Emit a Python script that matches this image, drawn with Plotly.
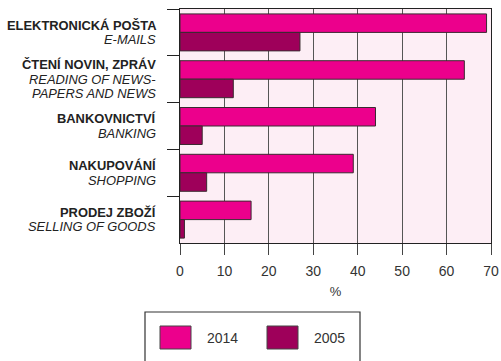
import plotly.graph_objects as go

# Internet activities, share of users (%)
categories_cz = ["ELEKTRONICKÁ POŠTA", "ČTENÍ NOVIN, ZPRÁV", "BANKOVNICTVÍ", "NAKUPOVÁNÍ", "PRODEJ ZBOŽÍ"]
categories_en = [["E-MAILS"], ["READING OF NEWS-", "PAPERS AND NEWS"], ["BANKING"], ["SHOPPING"], ["SELLING OF GOODS"]]
series_names = ["2014", "2005"]
values_2014 = [69, 64, 44, 39, 16]
values_2005 = [27, 12, 5, 6, 1]
x_ticks = [0, 10, 20, 30, 40, 50, 60, 70]

colors = ["#EC008C", "#9E005A"]
font_family = "Liberation Sans, Arial, Helvetica, sans-serif"

fig = go.Figure()
for name, vals, col in zip(series_names, [values_2014, values_2005], colors):
    fig.add_trace(go.Bar(
        y=categories_cz, x=vals, name=name, orientation="h",
        marker=dict(color=col, line=dict(color="#3a2a30", width=1)),
        showlegend=False,
    ))

fig.update_layout(
    width=501, height=361,
    margin=dict(l=180, r=10, t=9, b=118),
    paper_bgcolor="white", plot_bgcolor="#FDEEF5",
    barmode="group", bargap=0.21, bargroupgap=0,
    font=dict(family=font_family, color="#222"),
)

fig.update_xaxes(
    range=[0, 70], tickvals=x_ticks, ticktext=[str(t) for t in x_ticks],
    ticks="outside", ticklen=11, tickcolor="#444", tickwidth=1,
    showline=True, linecolor="#222", linewidth=1.2, mirror=True,
    showgrid=True, gridcolor="#555", gridwidth=1.3, zeroline=False,
    tickfont=dict(size=14, color="#333"), ticklabelstandoff=4,
    title=dict(text="%", font=dict(size=13, color="#333"), standoff=8),
    automargin=False,
)
fig.update_yaxes(
    type="category", categoryorder="array", categoryarray=categories_cz,
    autorange="reversed",
    tickson="boundaries", ticks="outside", ticklen=12, tickcolor="#222", tickwidth=1,
    showline=True, linecolor="#222", linewidth=1.2, mirror=True,
    showgrid=False, zeroline=False, showticklabels=False,
    automargin=False,
)

# Category labels: bold Czech line, italic English line(s), right-aligned by the axis
line_gap = 14.7
for cz, en_lines in zip(categories_cz, categories_en):
    lines = [f"<b>{cz}</b>"] + [f"<i>{t}</i>" for t in en_lines]
    n = len(lines)
    for i, txt in enumerate(lines):
        offset = (i - (n - 1) / 2) * line_gap
        fig.add_annotation(
            xref="paper", yref="y", x=0, y=cz, xshift=-22, yshift=-offset,
            text=txt, showarrow=False, xanchor="right", yanchor="middle",
            font=dict(size=12.9, color="#222"),
        )

# Legend drawn as a framed box with large swatches below the plot
box_x0, box_x1, box_y0, box_y1 = 145, 360, 312, 372
fig.add_shape(type="rect", xref="paper", yref="paper",
              x0=(box_x0 - 180) / 311, x1=(box_x1 - 180) / 311,
              y0=(243 - box_y1) / 234, y1=(243 - box_y0) / 234,
              line=dict(color="#333", width=1.2), fillcolor="white")
swatch_x = [160, 267]
for sx, name, col in zip(swatch_x, series_names, colors):
    fig.add_shape(type="rect", xref="paper", yref="paper",
                  x0=(sx - 180) / 311, x1=(sx + 31 - 180) / 311,
                  y0=(243 - 349) / 234, y1=(243 - 326) / 234,
                  line=dict(color="#444", width=1), fillcolor=col)
    fig.add_annotation(xref="paper", yref="paper",
                       x=(sx + 45 - 180) / 311, y=(243 - 337.5) / 234,
                       text=name, showarrow=False, xanchor="left", yanchor="middle",
                       font=dict(size=14, color="#333"))

fig.write_html("out.html")
